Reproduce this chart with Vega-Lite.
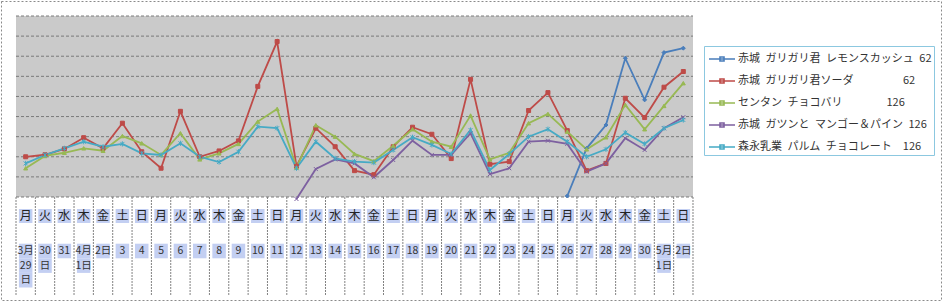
{
  "$schema": "https://vega.github.io/schema/vega-lite/v6.json",
  "width": 943,
  "height": 303,
  "autosize": {"type": "fit", "contains": "padding"},
  "padding": {"left": 1, "top": 1, "right": 2, "bottom": 3},
  "background": "white",
  "view": {"stroke": "#8a8a8a", "strokeDash": [2, 2], "strokeWidth": 1, "fill": "white"},
  "config": {"font": "Noto Sans CJK JP"},
  "datasets": {
    "sales": [
      {"date": "2010-03-29", "B": 2.0, "C": 1.43, "E": 1.67},
      {"date": "2010-03-30", "B": 2.1, "C": 2.04, "E": 2.09},
      {"date": "2010-03-31", "B": 2.39, "C": 2.2, "E": 2.42},
      {"date": "2010-04-01", "B": 2.95, "C": 2.42, "E": 2.75},
      {"date": "2010-04-02", "B": 2.42, "C": 2.3, "E": 2.5},
      {"date": "2010-04-03", "B": 3.67, "C": 3.03, "E": 2.64},
      {"date": "2010-04-04", "B": 2.25, "C": 2.67, "E": 2.17},
      {"date": "2010-04-05", "B": 1.43, "C": 2.09, "E": 2.09},
      {"date": "2010-04-06", "B": 4.26, "C": 3.17, "E": 2.67},
      {"date": "2010-04-07", "B": 2.0, "C": 1.87, "E": 2.0},
      {"date": "2010-04-08", "B": 2.29, "C": 2.17, "E": 1.74},
      {"date": "2010-04-09", "B": 2.79, "C": 2.64, "E": 2.25},
      {"date": "2010-04-10", "B": 5.5, "C": 3.75, "E": 3.5},
      {"date": "2010-04-11", "B": 7.73, "C": 4.38, "E": 3.42},
      {"date": "2010-04-12", "B": 1.53, "C": 1.46, "D": -0.1, "E": 1.43},
      {"date": "2010-04-13", "B": 3.42, "C": 3.57, "D": 1.39, "E": 2.75},
      {"date": "2010-04-14", "B": 2.5, "C": 3.0, "D": 1.87, "E": 1.92},
      {"date": "2010-04-15", "B": 1.31, "C": 2.14, "D": 1.67, "E": 1.76},
      {"date": "2010-04-16", "B": 1.11, "C": 1.78, "D": 0.98, "E": 1.71},
      {"date": "2010-04-17", "B": 2.5, "C": 2.55, "D": 1.84, "E": 2.34},
      {"date": "2010-04-18", "B": 3.47, "C": 3.37, "D": 2.8, "E": 2.97},
      {"date": "2010-04-19", "B": 3.12, "C": 2.75, "D": 2.09, "E": 2.59},
      {"date": "2010-04-20", "B": 1.91, "C": 2.5, "D": 2.09, "E": 2.14},
      {"date": "2010-04-21", "B": 5.85, "C": 4.05, "D": 3.17, "E": 3.33},
      {"date": "2010-04-22", "B": 1.63, "C": 1.87, "D": 1.14, "E": 1.34},
      {"date": "2010-04-23", "B": 1.76, "C": 2.2, "D": 1.43, "E": 2.14},
      {"date": "2010-04-24", "B": 4.3, "C": 3.67, "D": 2.75, "E": 3.0},
      {"date": "2010-04-25", "B": 5.19, "C": 4.13, "D": 2.8, "E": 3.37},
      {"date": "2010-04-26", "A": 0.05, "B": 3.3, "C": 3.25, "D": 2.64, "E": 2.75},
      {"date": "2010-04-27", "A": 2.42, "B": 1.31, "C": 2.37, "D": 1.26, "E": 2.0},
      {"date": "2010-04-28", "A": 3.58, "B": 1.67, "C": 2.97, "D": 1.67, "E": 2.37},
      {"date": "2010-04-29", "A": 6.9, "B": 4.91, "C": 4.58, "D": 2.92, "E": 3.2},
      {"date": "2010-04-30", "A": 4.83, "B": 3.95, "C": 3.37, "D": 2.34, "E": 2.64},
      {"date": "2010-05-01", "A": 7.18, "B": 5.46, "C": 4.53, "D": 3.42, "E": 3.42},
      {"date": "2010-05-02", "A": 7.4, "B": 6.24, "C": 5.66, "D": 3.97, "E": 3.83}
    ],
    "tbl": [
      {"date": "2010-03-29", "dow": "月", "label": ["3月", "29", "日"]},
      {"date": "2010-03-30", "dow": "火", "label": ["30", "日"]},
      {"date": "2010-03-31", "dow": "水", "label": ["31"]},
      {"date": "2010-04-01", "dow": "木", "label": ["4月", "1日"]},
      {"date": "2010-04-02", "dow": "金", "label": ["2日"]},
      {"date": "2010-04-03", "dow": "土", "label": ["3"]},
      {"date": "2010-04-04", "dow": "日", "label": ["4"]},
      {"date": "2010-04-05", "dow": "月", "label": ["5"]},
      {"date": "2010-04-06", "dow": "火", "label": ["6"]},
      {"date": "2010-04-07", "dow": "水", "label": ["7"]},
      {"date": "2010-04-08", "dow": "木", "label": ["8"]},
      {"date": "2010-04-09", "dow": "金", "label": ["9"]},
      {"date": "2010-04-10", "dow": "土", "label": ["10"]},
      {"date": "2010-04-11", "dow": "日", "label": ["11"]},
      {"date": "2010-04-12", "dow": "月", "label": ["12"]},
      {"date": "2010-04-13", "dow": "火", "label": ["13"]},
      {"date": "2010-04-14", "dow": "水", "label": ["14"]},
      {"date": "2010-04-15", "dow": "木", "label": ["15"]},
      {"date": "2010-04-16", "dow": "金", "label": ["16"]},
      {"date": "2010-04-17", "dow": "土", "label": ["17"]},
      {"date": "2010-04-18", "dow": "日", "label": ["18"]},
      {"date": "2010-04-19", "dow": "月", "label": ["19"]},
      {"date": "2010-04-20", "dow": "火", "label": ["20"]},
      {"date": "2010-04-21", "dow": "水", "label": ["21"]},
      {"date": "2010-04-22", "dow": "木", "label": ["22"]},
      {"date": "2010-04-23", "dow": "金", "label": ["23"]},
      {"date": "2010-04-24", "dow": "土", "label": ["24"]},
      {"date": "2010-04-25", "dow": "日", "label": ["25"]},
      {"date": "2010-04-26", "dow": "月", "label": ["26"]},
      {"date": "2010-04-27", "dow": "火", "label": ["27"]},
      {"date": "2010-04-28", "dow": "水", "label": ["28"]},
      {"date": "2010-04-29", "dow": "木", "label": ["29"]},
      {"date": "2010-04-30", "dow": "金", "label": ["30"]},
      {"date": "2010-05-01", "dow": "土", "label": ["5月", "1日"]},
      {"date": "2010-05-02", "dow": "日", "label": ["2日"]}
    ],
    "grid": [{"g": 0}, {"g": 1}, {"g": 2}, {"g": 3}, {"g": 4}, {"g": 5}, {"g": 6}, {"g": 7}, {"g": 8}, {"g": 9}]
  },
  "resolve": {"scale": {"y": "independent"}},
  "layer": [
    {
      "layer": [
        {
          "data": {"values": [{}]},
          "mark": {"type": "rect", "fill": "#cacaca"},
          "encoding": {
            "x": {"datum": {"year": 2010, "month": 3, "date": 29, "utc": true}, "type": "temporal", "axis": null,
              "scale": {"type": "utc", "nice": false, "domain": [{"year": 2010, "month": 3, "date": 28, "hours": 5, "minutes": 23, "seconds": 18, "utc": true}, {"year": 2010, "month": 5, "date": 15, "hours": 19, "minutes": 42, "seconds": 43, "utc": true}]}},
            "x2": {"datum": {"year": 2010, "month": 5, "date": 3, "utc": true}},
            "y": {"datum": 0, "type": "quantitative", "axis": null, "scale": {"domain": [-5.1216, 9.7459], "nice": false, "zero": false}},
            "y2": {"datum": 9}
          }
        },
        {
          "data": {"name": "grid"},
          "mark": {"type": "rule", "stroke": "#7a7a7a", "strokeDash": [3, 2], "strokeWidth": 1},
          "encoding": {
            "x": {"datum": {"year": 2010, "month": 3, "date": 29, "utc": true}, "type": "temporal", "axis": null,
              "scale": {"type": "utc", "nice": false, "domain": [{"year": 2010, "month": 3, "date": 28, "hours": 5, "minutes": 23, "seconds": 18, "utc": true}, {"year": 2010, "month": 5, "date": 15, "hours": 19, "minutes": 42, "seconds": 43, "utc": true}]}},
            "x2": {"datum": {"year": 2010, "month": 5, "date": 3, "utc": true}},
            "y": {"field": "g", "type": "quantitative", "axis": null, "scale": {"domain": [-5.1216, 9.7459], "nice": false, "zero": false}}
          }
        },
        {
          "data": {"name": "tbl"},
          "mark": {"type": "rule", "stroke": "#808080", "strokeDash": [2, 1], "strokeWidth": 1},
          "encoding": {
            "x": {"field": "date", "timeUnit": "utcyearmonthdate", "type": "temporal", "bandPosition": 0, "axis": null,
              "scale": {"type": "utc", "nice": false, "domain": [{"year": 2010, "month": 3, "date": 28, "hours": 5, "minutes": 23, "seconds": 18, "utc": true}, {"year": 2010, "month": 5, "date": 15, "hours": 19, "minutes": 42, "seconds": 43, "utc": true}]}},
            "y": {"datum": 0, "type": "quantitative", "axis": null, "scale": {"domain": [-5.1216, 9.7459], "nice": false, "zero": false}},
            "y2": {"datum": -4.873}
          }
        },
        {
          "data": {"values": [{}]},
          "mark": {"type": "rule", "stroke": "#808080", "strokeDash": [2, 1], "strokeWidth": 1},
          "encoding": {
            "x": {"datum": {"year": 2010, "month": 5, "date": 3, "utc": true}, "type": "temporal", "axis": null,
              "scale": {"type": "utc", "nice": false, "domain": [{"year": 2010, "month": 3, "date": 28, "hours": 5, "minutes": 23, "seconds": 18, "utc": true}, {"year": 2010, "month": 5, "date": 15, "hours": 19, "minutes": 42, "seconds": 43, "utc": true}]}},
            "y": {"datum": 0, "type": "quantitative", "axis": null, "scale": {"domain": [-5.1216, 9.7459], "nice": false, "zero": false}},
            "y2": {"datum": -4.873}
          }
        },
        {
          "data": {"name": "tbl"},
          "mark": {"type": "tick", "orient": "horizontal", "color": "#c3cff2", "opacity": 1, "size": 13.5, "thickness": 14},
          "encoding": {
            "x": {"field": "date", "timeUnit": "utcyearmonthdate", "type": "temporal", "bandPosition": 0.5, "axis": null,
              "scale": {"type": "utc", "nice": false, "domain": [{"year": 2010, "month": 3, "date": 28, "hours": 5, "minutes": 23, "seconds": 18, "utc": true}, {"year": 2010, "month": 5, "date": 15, "hours": 19, "minutes": 42, "seconds": 43, "utc": true}]}},
            "y": {"datum": -0.945, "type": "quantitative", "axis": null, "scale": {"domain": [-5.1216, 9.7459], "nice": false, "zero": false}}
          }
        },
        {
          "data": {"name": "tbl"},
          "mark": {"type": "text", "fontSize": 12, "fill": "#222222", "baseline": "middle", "align": "center"},
          "encoding": {
            "x": {"field": "date", "timeUnit": "utcyearmonthdate", "type": "temporal", "bandPosition": 0.5, "axis": null,
              "scale": {"type": "utc", "nice": false, "domain": [{"year": 2010, "month": 3, "date": 28, "hours": 5, "minutes": 23, "seconds": 18, "utc": true}, {"year": 2010, "month": 5, "date": 15, "hours": 19, "minutes": 42, "seconds": 43, "utc": true}]}},
            "y": {"datum": -0.945, "type": "quantitative", "axis": null, "scale": {"domain": [-5.1216, 9.7459], "nice": false, "zero": false}},
            "text": {"field": "dow"}
          }
        },
        {
          "data": {"name": "sales"},
          "transform": [{"fold": ["A", "B", "C", "D", "E"], "as": ["series", "v"]}],
          "mark": {"type": "line", "strokeWidth": 1.8},
          "encoding": {
            "x": {"field": "date", "timeUnit": "utcyearmonthdate", "type": "temporal", "bandPosition": 0.5, "axis": null,
              "scale": {"type": "utc", "nice": false, "domain": [{"year": 2010, "month": 3, "date": 28, "hours": 5, "minutes": 23, "seconds": 18, "utc": true}, {"year": 2010, "month": 5, "date": 15, "hours": 19, "minutes": 42, "seconds": 43, "utc": true}]}},
            "y": {"field": "v", "type": "quantitative", "axis": null, "scale": {"domain": [-5.1216, 9.7459], "nice": false, "zero": false}},
            "color": {
              "field": "series", "type": "nominal",
              "scale": {"domain": ["A", "B", "C", "D", "E"], "range": ["#4a7ebb", "#be4b48", "#98b954", "#7d60a0", "#46aac5"]},
              "legend": {
                "orient": "none", "legendX": 703, "legendY": 45, "title": null,
                "direction": "vertical",
                "symbolType": "M-0.8,0H1.8M0.3,-0.2H0.7V0.2H0.3Z",
                "symbolSize": 400, "symbolStrokeWidth": 1.6, "symbolFillColor": "transparent",
                "labelFontSize": 11, "labelColor": "#333333", "labelOffset": 10, "labelLimit": 400,
                "rowPadding": 5, "padding": 2,
                "strokeColor": "#8cc8e0", "fillColor": "white",
                "labelExpr": "{'A': '赤城\u2002ガリガリ君\u2002レモンスカッシュ\u200262', 'B': '赤城\u2002ガリガリ君ソーダ\u3000\u3000\u3000\u3000\u200262', 'C': 'センタン\u2002チョコバリ\u3000\u3000\u3000\u3000126', 'D': '赤城\u2002ガツンと\u2002マンゴー＆パイン\u2002126', 'E': '森永乳業\u2002パルム\u2002チョコレート\u3000126'}[datum.value]"
              }
            }
          }
        },
        {
          "data": {"name": "sales"},
          "transform": [{"fold": ["A", "B", "C", "D", "E"], "as": ["mk", "v"]}],
          "mark": {"type": "point", "size": 16, "strokeWidth": 1, "opacity": 1},
          "encoding": {
            "x": {"field": "date", "timeUnit": "utcyearmonthdate", "type": "temporal", "bandPosition": 0.5, "axis": null,
              "scale": {"type": "utc", "nice": false, "domain": [{"year": 2010, "month": 3, "date": 28, "hours": 5, "minutes": 23, "seconds": 18, "utc": true}, {"year": 2010, "month": 5, "date": 15, "hours": 19, "minutes": 42, "seconds": 43, "utc": true}]}},
            "y": {"field": "v", "type": "quantitative", "axis": null, "scale": {"domain": [-5.1216, 9.7459], "nice": false, "zero": false}},
            "fill": {"field": "mk", "type": "nominal", "legend": null, "scale": {"domain": ["E", "D", "C", "B", "A"], "range": ["#46aac5", "#7d60a0", "#98b954", "#be4b48", "#4a7ebb"]}},
            "stroke": {"field": "mk", "type": "nominal", "legend": null, "scale": {"domain": ["E", "D", "C", "B", "A"], "range": ["#46aac5", "#7d60a0", "#98b954", "#be4b48", "#4a7ebb"]}},
            "shape": {"field": "mk", "type": "nominal", "legend": null, "scale": {"domain": ["E", "D", "C", "B", "A"], "range": ["M-1,-1L1,1M-1,1L1,-1M0,-1.3V1.3", "M-1,-1L1,1M-1,1L1,-1", "triangle-up", "square", "diamond"]}}
          }
        }
      ]
    },
    {
      "data": {"name": "tbl"},
      "transform": [
        {"flatten": ["label"], "as": ["line"]},
        {"window": [{"op": "row_number", "as": "ln"}], "groupby": ["date"]}
      ],
      "layer": [
        {
          "mark": {"type": "tick", "orient": "horizontal", "color": "#c3cff2", "opacity": 1, "size": 13.5, "thickness": 14.6},
          "encoding": {
            "x": {"field": "date", "timeUnit": "utcyearmonthdate", "type": "temporal", "bandPosition": 0.5, "axis": null,
              "scale": {"type": "utc", "nice": false, "domain": [{"year": 2010, "month": 3, "date": 28, "hours": 5, "minutes": 23, "seconds": 18, "utc": true}, {"year": 2010, "month": 5, "date": 15, "hours": 19, "minutes": 42, "seconds": 43, "utc": true}]}},
            "y": {"field": "ln", "type": "quantitative", "axis": null, "scale": {"domain": [-16.123, 4.356], "reverse": true, "nice": false, "zero": false}}
          }
        },
        {
          "mark": {"type": "text", "fontSize": 10.5, "fill": "#333333", "baseline": "middle", "align": "center"},
          "encoding": {
            "x": {"field": "date", "timeUnit": "utcyearmonthdate", "type": "temporal", "bandPosition": 0.5, "axis": null,
              "scale": {"type": "utc", "nice": false, "domain": [{"year": 2010, "month": 3, "date": 28, "hours": 5, "minutes": 23, "seconds": 18, "utc": true}, {"year": 2010, "month": 5, "date": 15, "hours": 19, "minutes": 42, "seconds": 43, "utc": true}]}},
            "y": {"field": "ln", "type": "quantitative", "axis": null, "scale": {"domain": [-16.123, 4.356], "reverse": true, "nice": false, "zero": false}},
            "text": {"field": "line"}
          }
        }
      ]
    }
  ]
}
